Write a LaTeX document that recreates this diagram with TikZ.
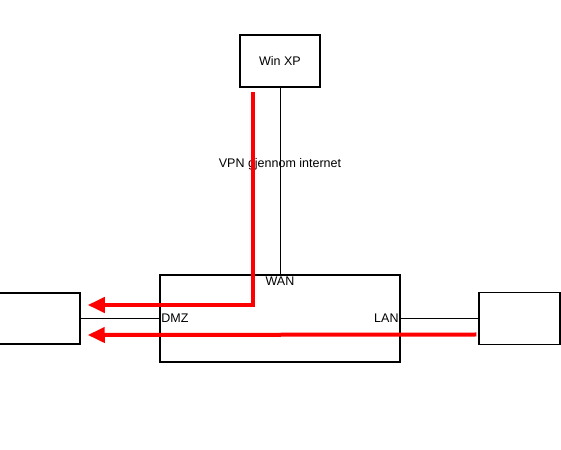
\documentclass[tikz,border=0pt]{standalone}
\usepackage{fontspec}
\setmainfont{Liberation Sans}
\usetikzlibrary{arrows.meta, positioning}
\tikzset{
    box/.style={rectangle, draw, line width=1.5pt, inner sep=0pt},
    link/.style={draw, line width=0.8pt},
    vpn/.style={draw, red, line width=4pt, -{Triangle[length=17pt,width=15pt]}},
    every node/.style={font=\fontsize{12.5}{14}\selectfont}
}

\begin{document}
\begin{tikzpicture}[x=1pt, y=1pt]
    \useasboundingbox (0,0) rectangle (561,449);

    % router and its ports
    \node [box, minimum width=240pt, minimum height=87pt] (router) at (280,130.5) {};
    \node [anchor=north, inner sep=2pt] (wan) at (router.north) {WAN};
    \node [anchor=west, inner sep=2pt] (dmz) at (router.west) {DMZ};
    \node [anchor=east, inner sep=2pt] (lan) at (router.east) {LAN};

    % hosts round it
    \node [box, minimum width=82pt, minimum height=51pt, left=78.5pt of router] (dmzhost) {};
    \node [box, minimum width=81pt, minimum height=52pt, right=77.5pt of router] (lanhost) {};
    \node [box, minimum width=80pt, minimum height=52pt, above=186.5pt of router] (winxp) {Win XP};

    \draw [link] (dmzhost) -- (router);
    \draw [link] (router) -- (lanhost);
    \draw [link] (winxp.south) -- node [pos=0.41] {VPN gjennom internet} (router.north);

    % traffic
    \coordinate (vpnstart) at ([shift={(-27pt,-4pt)}]winxp.south);
    \coordinate (tip1) at ([shift={(7pt,13.5pt)}]dmzhost.east);
    \coordinate (tip2) at ([shift={(7pt,-16.5pt)}]dmzhost.east);
    \coordinate (lanstart) at ([shift={(-2pt,-16pt)}]lanhost.west);
    \draw [vpn] (vpnstart) |- (tip1);
    \draw [vpn] (lanstart) -- (tip2);

\end{tikzpicture}
\end{document}
